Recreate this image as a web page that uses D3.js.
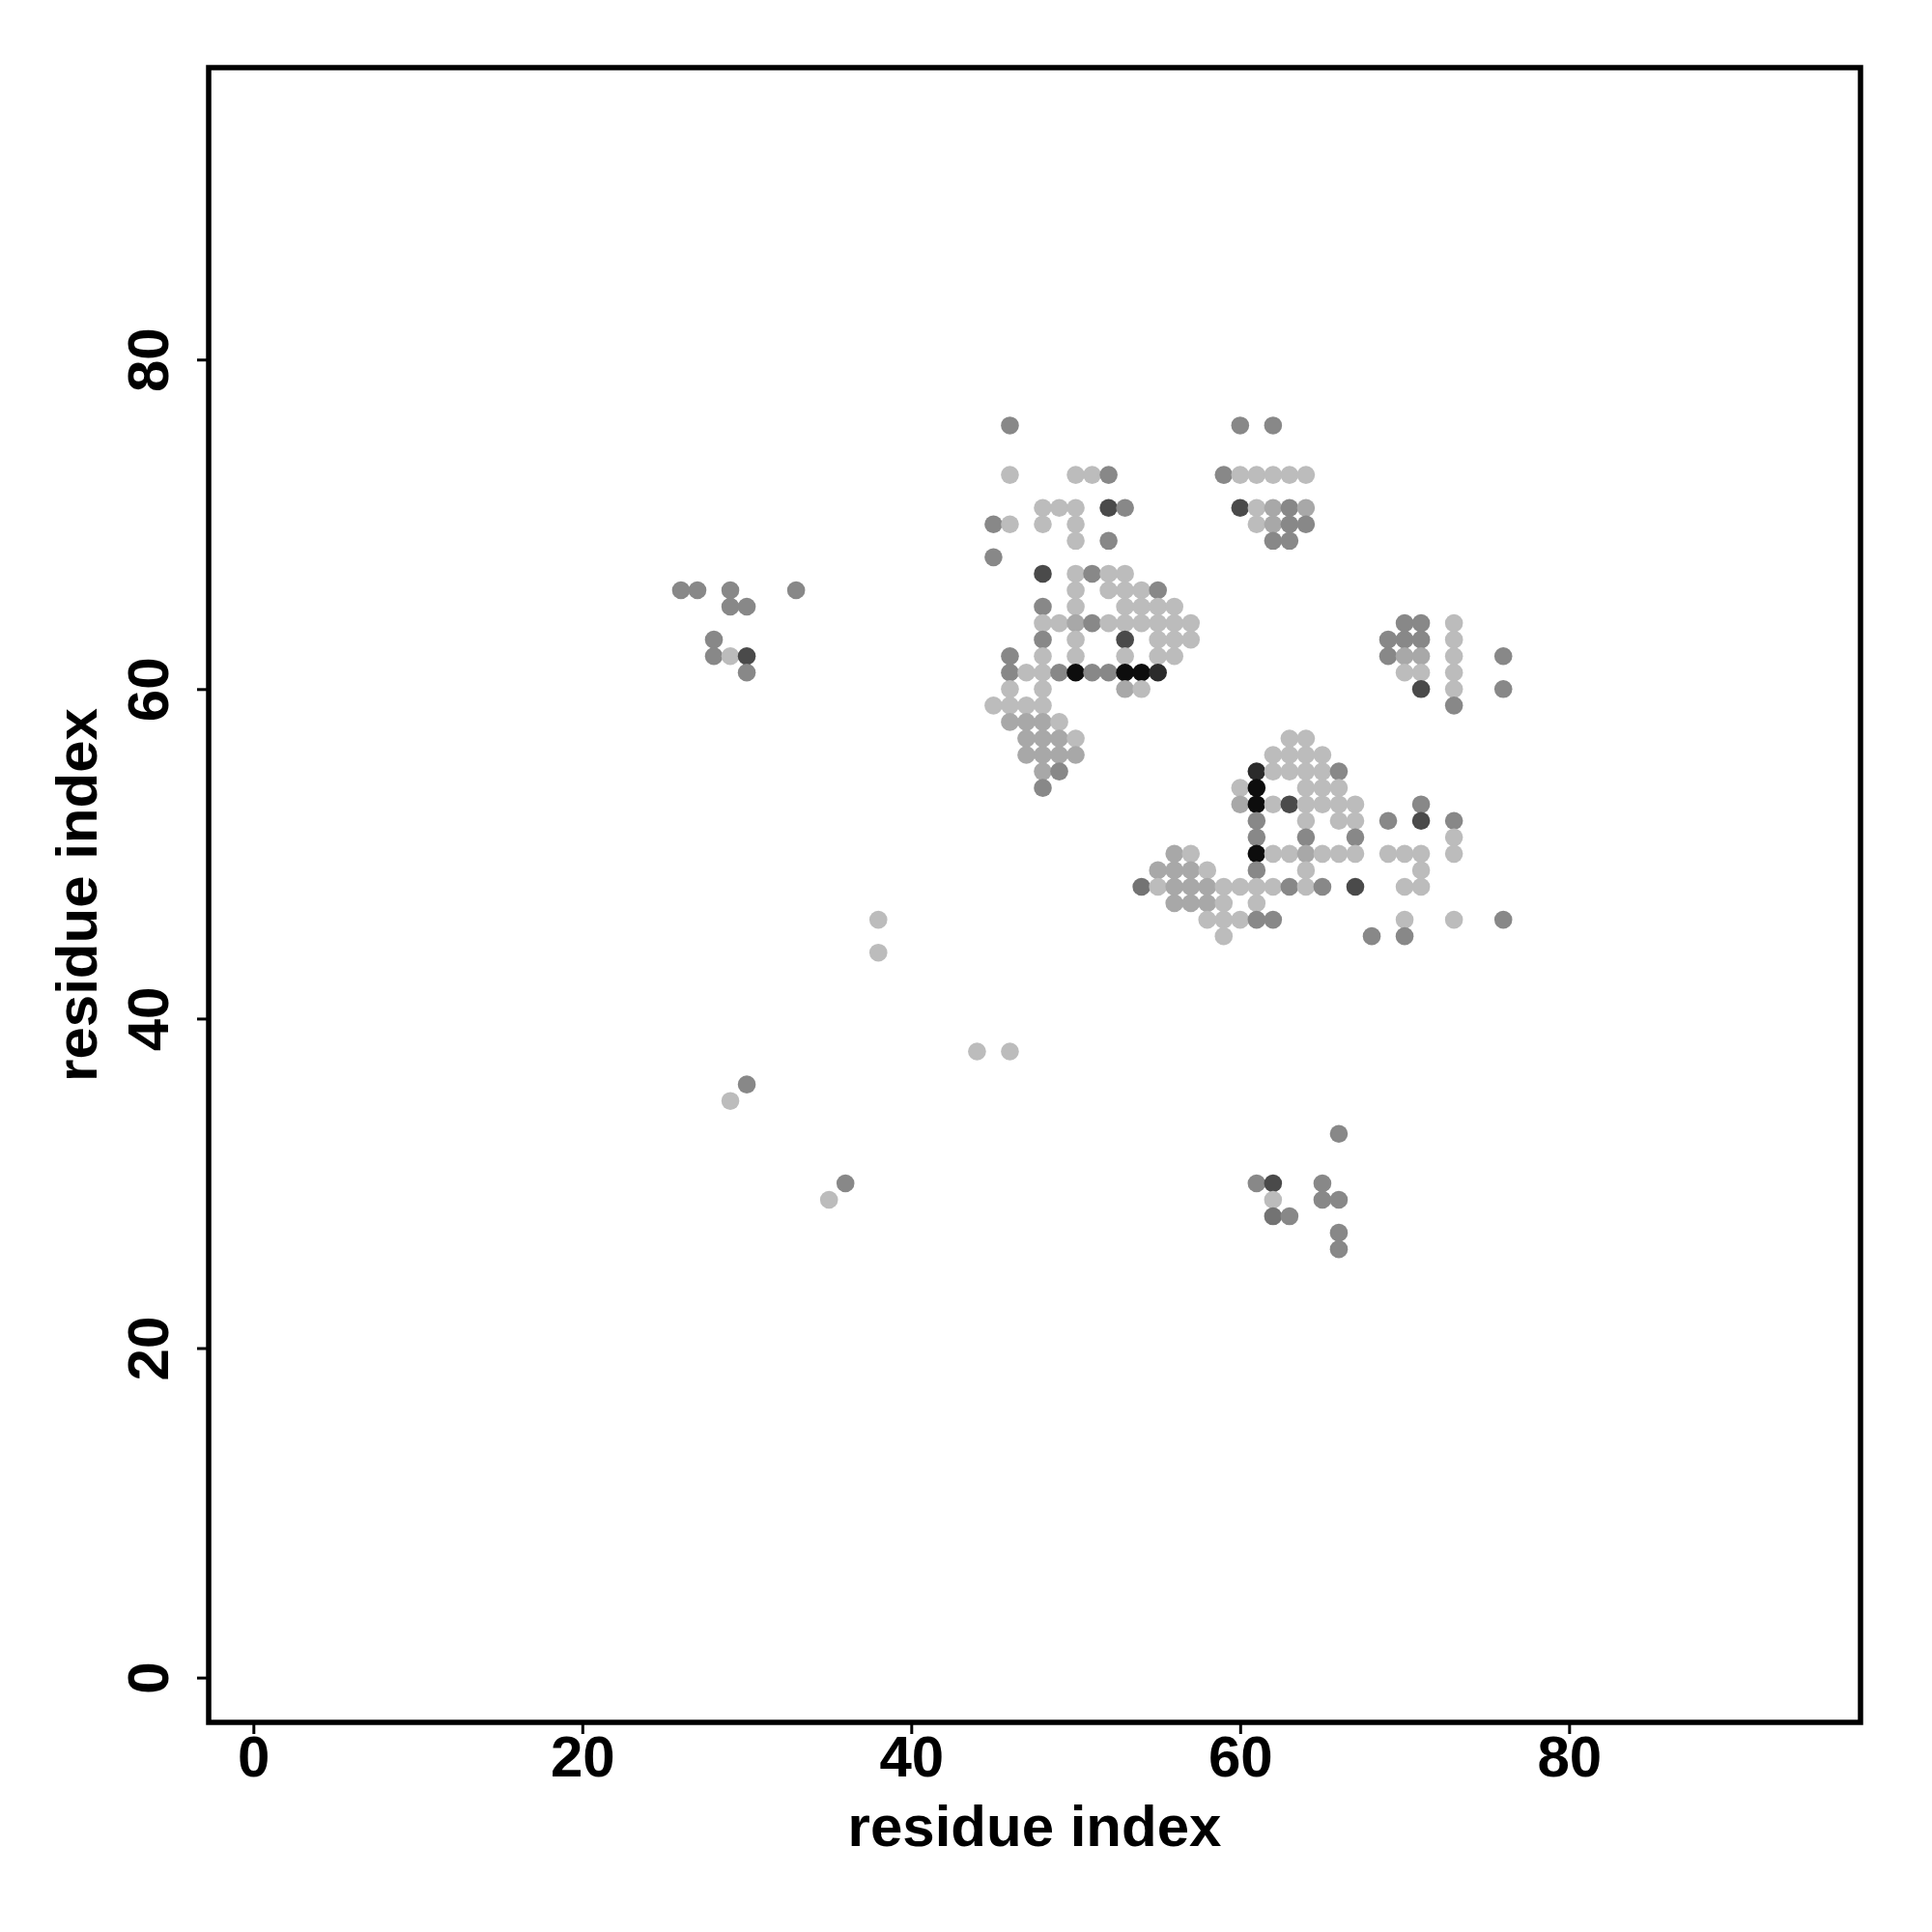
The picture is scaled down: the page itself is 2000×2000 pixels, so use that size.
<!DOCTYPE html>
<html>
<head>
<meta charset="utf-8">
<script src="https://cdn.jsdelivr.net/npm/d3@7"></script>
<style>
    body { margin: 0; background: #fff; }
    text { font-family: "Liberation Sans", Arial, sans-serif; font-weight: bold; }
</style>
</head>
<body>
<svg width="2000" height="2000"></svg>
<script>
// contact map: one row per residue j, with partner residues i and contact counts
var rowResidue = [76, 73, 71, 70, 69, 68, 67, 66, 65, 64, 63, 62, 61, 60, 59, 58, 57, 56, 55, 54, 53, 52, 51, 50, 49, 48, 47, 46, 45, 44, 38, 36, 35, 33, 30, 29, 28, 27, 26];
var rowPartners = [
    [46, 60, 62],
    [46, 50, 51, 52, 59, 60, 61, 62, 63, 64],
    [48, 49, 50, 52, 53, 60, 61, 62, 63, 64],
    [45, 46, 48, 50, 61, 62, 63, 64],
    [50, 52, 62, 63],
    [45],
    [48, 50, 51, 52, 53],
    [26, 27, 29, 33, 50, 52, 53, 54, 55],
    [29, 30, 48, 50, 53, 54, 55, 56],
    [48, 49, 50, 51, 52, 53, 54, 55, 56, 57, 70, 71, 73],
    [28, 48, 50, 53, 55, 56, 57, 69, 70, 71, 73],
    [28, 29, 30, 46, 48, 50, 53, 55, 56, 69, 70, 71, 73, 76],
    [30, 46, 47, 48, 49, 50, 51, 52, 53, 54, 55, 70, 71, 73],
    [46, 48, 53, 54, 71, 73, 76],
    [45, 46, 47, 48, 73],
    [46, 47, 48, 49],
    [47, 48, 49, 50, 63, 64],
    [47, 48, 49, 50, 62, 63, 64, 65],
    [48, 49, 61, 62, 63, 64, 65, 66],
    [48, 60, 61, 64, 65, 66],
    [60, 61, 62, 63, 64, 65, 66, 67, 71],
    [61, 64, 66, 67, 69, 71, 73],
    [61, 64, 67, 73],
    [56, 57, 61, 62, 63, 64, 65, 66, 67, 69, 70, 71, 73],
    [55, 56, 57, 58, 61, 64, 71],
    [54, 55, 56, 57, 58, 59, 60, 61, 62, 63, 64, 65, 67, 70, 71],
    [56, 57, 58, 59, 61],
    [38, 58, 59, 60, 61, 62, 70, 73, 76],
    [59, 68, 70],
    [38],
    [44, 46],
    [30],
    [29],
    [66],
    [36, 61, 62, 65],
    [35, 62, 65, 66],
    [62, 63],
    [66],
    [66]
];
var rowCounts = [
    [3, 3, 3],
    [1, 1, 1, 3, 3, 1, 1, 1, 1, 1],
    [1, 1, 1, 5, 3, 5, 1, 2, 3, 2],
    [3, 1, 1, 1, 1, 2, 3, 3],
    [1, 3, 3, 3],
    [3],
    [5, 1, 3, 1, 1],
    [3, 3, 3, 3, 1, 1, 1, 1, 3],
    [3, 3, 3, 1, 1, 1, 1, 1],
    [1, 1, 2, 3, 1, 1, 1, 1, 1, 1, 3, 3, 1],
    [3, 3, 1, 5, 1, 1, 1, 3, 3, 3, 1],
    [3, 1, 5, 3, 1, 1, 1, 1, 1, 3, 2, 2, 1, 3],
    [3, 3, 1, 1, 3, 7, 3, 3, 7, 7, 6, 1, 1, 1],
    [1, 1, 2, 1, 5, 1, 3],
    [1, 1, 1, 1, 3],
    [2, 2, 2, 1],
    [2, 2, 2, 1, 1, 1],
    [2, 2, 2, 2, 1, 1, 1, 1],
    [2, 3, 6, 1, 1, 1, 1, 3],
    [3, 1, 7, 1, 1, 1],
    [2, 7, 1, 5, 1, 1, 1, 1, 3],
    [3, 1, 1, 1, 3, 5, 3],
    [3, 3, 3, 1],
    [2, 1, 7, 1, 1, 2, 1, 1, 1, 1, 1, 1, 1],
    [2, 2, 2, 1, 3, 1, 1],
    [4, 1, 2, 2, 2, 1, 1, 1, 1, 3, 1, 3, 5, 1, 1],
    [2, 2, 2, 1, 1],
    [1, 1, 1, 1, 3, 3, 1, 1, 3],
    [1, 3, 3],
    [1],
    [1, 1],
    [3],
    [1],
    [3],
    [3, 3, 5, 3],
    [1, 1, 3, 3],
    [4, 3],
    [3],
    [3]
];
var axisTicks = [0, 20, 40, 60, 80];
var residueRange = [1, 94];
var axisTitle = "residue index";

var points = [];
rowResidue.forEach(function (j, r) {
    rowPartners[r].forEach(function (i, k) {
        points.push({ i: i, j: j, count: rowCounts[r][k] });
    });
});

// R style 4% padding on both sides
var pad = (residueRange[1] - residueRange[0]) * 0.04;
var domain = [residueRange[0] - pad, residueRange[1] + pad];

var plotLeft = 216, plotRight = 1926, plotTop = 70, plotBottom = 1783;

var x = d3.scaleLinear().domain(domain).range([plotLeft, plotRight]);
var y = d3.scaleLinear().domain(domain).range([plotBottom, plotTop]);

var shade = d3.scaleLinear()
    .domain([1, 2, 3, 4, 5, 6, 7])
    .range(["#bcbcbc", "#a8a8a8", "#888888", "#737373", "#4a4a4a", "#2b2b2b", "#0d0d0d"]);

var svg = d3.select("svg");

svg.append("g")
    .attr("class", "points")
    .selectAll("circle")
    .data(points).enter().append("circle")
    .attr("cx", function (d) { return x(d.i); })
    .attr("cy", function (d) { return y(d.j); })
    .attr("r", 9.3)
    .attr("fill", function (d) { return shade(d.count); });

var xAxis = svg.append("g")
    .attr("transform", "translate(0," + plotBottom + ")")
    .call(d3.axisBottom(x).tickValues(axisTicks).tickSize(12).tickFormat(d3.format("d")));
xAxis.select(".domain").remove();
xAxis.selectAll(".tick line").attr("stroke-width", 3);
xAxis.selectAll(".tick text")
    .attr("y", 56)
    .attr("dy", 0)
    .attr("font-size", 60)
    .attr("fill", "#000");

var yAxis = svg.append("g")
    .attr("transform", "translate(" + plotLeft + ",0)")
    .call(d3.axisLeft(y).tickValues(axisTicks).tickSize(12).tickFormat(d3.format("d")));
yAxis.select(".domain").remove();
yAxis.selectAll(".tick line").attr("stroke-width", 3);
yAxis.selectAll(".tick text")
    .attr("transform", "rotate(-90)")
    .attr("x", 0)
    .attr("y", -42)
    .attr("dy", 0)
    .attr("text-anchor", "middle")
    .attr("font-size", 60)
    .attr("fill", "#000");

svg.append("rect")
    .attr("x", plotLeft).attr("y", plotTop)
    .attr("width", plotRight - plotLeft).attr("height", plotBottom - plotTop)
    .attr("fill", "none")
    .attr("stroke", "#000")
    .attr("stroke-width", 5.5);

svg.append("text")
    .attr("x", (plotLeft + plotRight) / 2)
    .attr("y", 1911)
    .attr("text-anchor", "middle")
    .attr("font-size", 60)
    .text(axisTitle);

svg.append("text")
    .attr("transform", "translate(100," + (plotTop + plotBottom) / 2 + ") rotate(-90)")
    .attr("text-anchor", "middle")
    .attr("font-size", 60)
    .text(axisTitle);
</script>
</body>
</html>
